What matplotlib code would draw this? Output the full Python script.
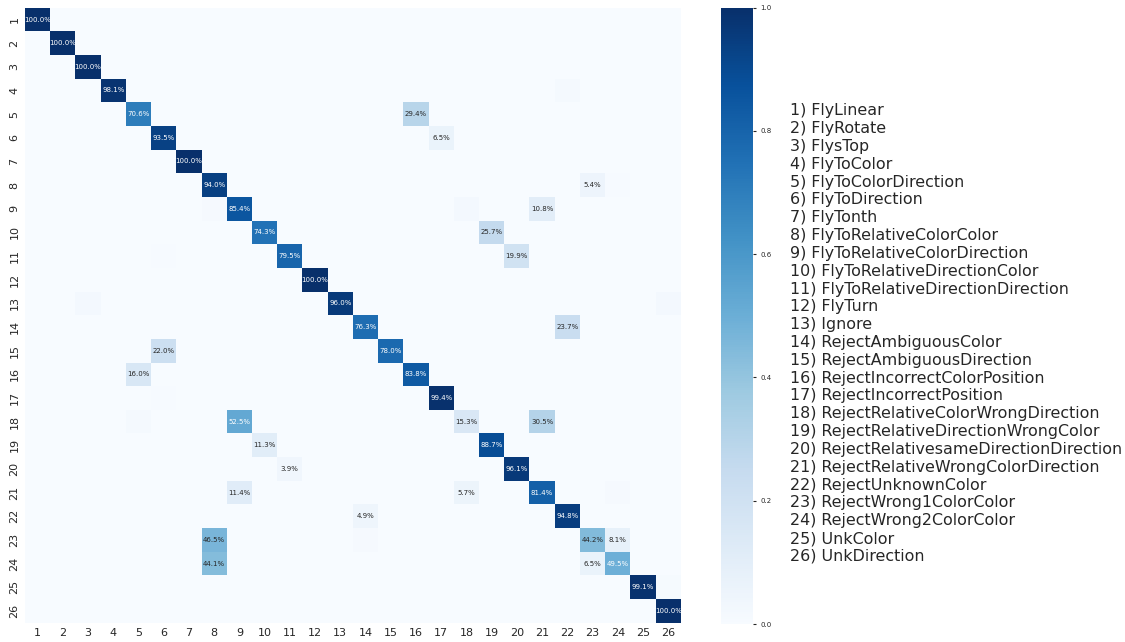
import numpy as np
import matplotlib
matplotlib.use("Agg")
import matplotlib.pyplot as plt
import seaborn as sns

# class names (index = label number - 1)
classes = ["FlyLinear", "FlyRotate", "FlysTop", "FlyToColor", "FlyToColorDirection",
           "FlyToDirection", "FlyTonth", "FlyToRelativeColorColor",
           "FlyToRelativeColorDirection", "FlyToRelativeDirectionColor",
           "FlyToRelativeDirectionDirection", "FlyTurn", "Ignore",
           "RejectAmbiguousColor", "RejectAmbiguousDirection",
           "RejectIncorrectColorPosition", "RejectIncorrectPosition",
           "RejectRelativeColorWrongDirection", "RejectRelativeDirectionWrongColor",
           "RejectRelativesameDirectionDirection", "RejectRelativeWrongColorDirection",
           "RejectUnknownColor", "RejectWrong1ColorColor", "RejectWrong2ColorColor",
           "UnkColor", "UnkDirection"]

# non-zero cells of the normalised confusion matrix: (true, predicted, value), 1-based
true_idx = [1, 2, 3, 4, 4, 5, 5, 6, 6, 7, 8, 8, 8, 9, 9, 9, 9,
            10, 10, 11, 11, 11, 12, 13, 13, 13, 14, 14, 15, 15, 16, 16,
            17, 17, 18, 18, 18, 18, 19, 19, 20, 20, 21, 21, 21, 21,
            22, 22, 23, 23, 23, 23, 24, 24, 24, 25, 25, 26]
pred_idx = [1, 2, 3, 4, 22, 5, 16, 6, 17, 7, 8, 23, 24, 8, 9, 18, 21,
            10, 19, 6, 11, 20, 12, 3, 13, 26, 14, 22, 6, 15, 5, 16,
            6, 17, 5, 9, 18, 21, 10, 19, 11, 20, 9, 18, 21, 24,
            14, 22, 8, 14, 23, 24, 8, 23, 24, 25, 26, 26]
values = [1.000, 1.000, 1.000, 0.981, 0.019, 0.706, 0.294, 0.935, 0.065, 1.000,
          0.940, 0.054, 0.006, 0.015, 0.854, 0.023, 0.108,
          0.743, 0.257, 0.006, 0.795, 0.199, 1.000, 0.020, 0.960, 0.020,
          0.763, 0.237, 0.220, 0.780, 0.160, 0.838,
          0.006, 0.994, 0.017, 0.525, 0.153, 0.305, 0.113, 0.887, 0.039, 0.961,
          0.114, 0.057, 0.814, 0.015, 0.049, 0.948,
          0.465, 0.012, 0.442, 0.081, 0.441, 0.065, 0.495, 0.991, 0.009, 1.000]

n = len(classes)
cm = np.zeros((n, n))
for t, p, v in zip(true_idx, pred_idx, values):
    cm[t - 1, p - 1] = v

# only annotate cells above 3%
annot = np.where(cm >= 0.03, np.vectorize(lambda v: "%.1f%%" % (v * 100))(cm), "")

sns.set_style("white")
fig = plt.figure(figsize=(11.25, 6.42), dpi=100)
ax = fig.add_axes([0.0222, 0.030, 0.583, 0.958])
cax = fig.add_axes([0.641, 0.028, 0.028, 0.960])

labels = [str(i) for i in range(1, n + 1)]
sns.heatmap(cm, ax=ax, cbar_ax=cax, cmap="Blues", vmin=0, vmax=1,
            annot=annot, fmt="", annot_kws={"fontsize": 5},
            xticklabels=labels, yticklabels=labels)
ax.tick_params(axis="both", length=0, labelsize=8, colors="#262626", pad=4)
ax.set_yticklabels(labels, rotation=90, va="center")
ax.set_xticklabels(labels, rotation=0)
cax.tick_params(labelsize=5, length=2, colors="#262626")
cax.set_yticks([0.0, 0.2, 0.4, 0.6, 0.8, 1.0])

legend_text = "\n".join("%d) %s" % (i + 1, c) for i, c in enumerate(classes))
fig.text(0.702, 0.839, legend_text, fontsize=11.45, va="top", ha="left",
         color="#262626", linespacing=1.235)

plt.savefig("out.png", dpi=100)
